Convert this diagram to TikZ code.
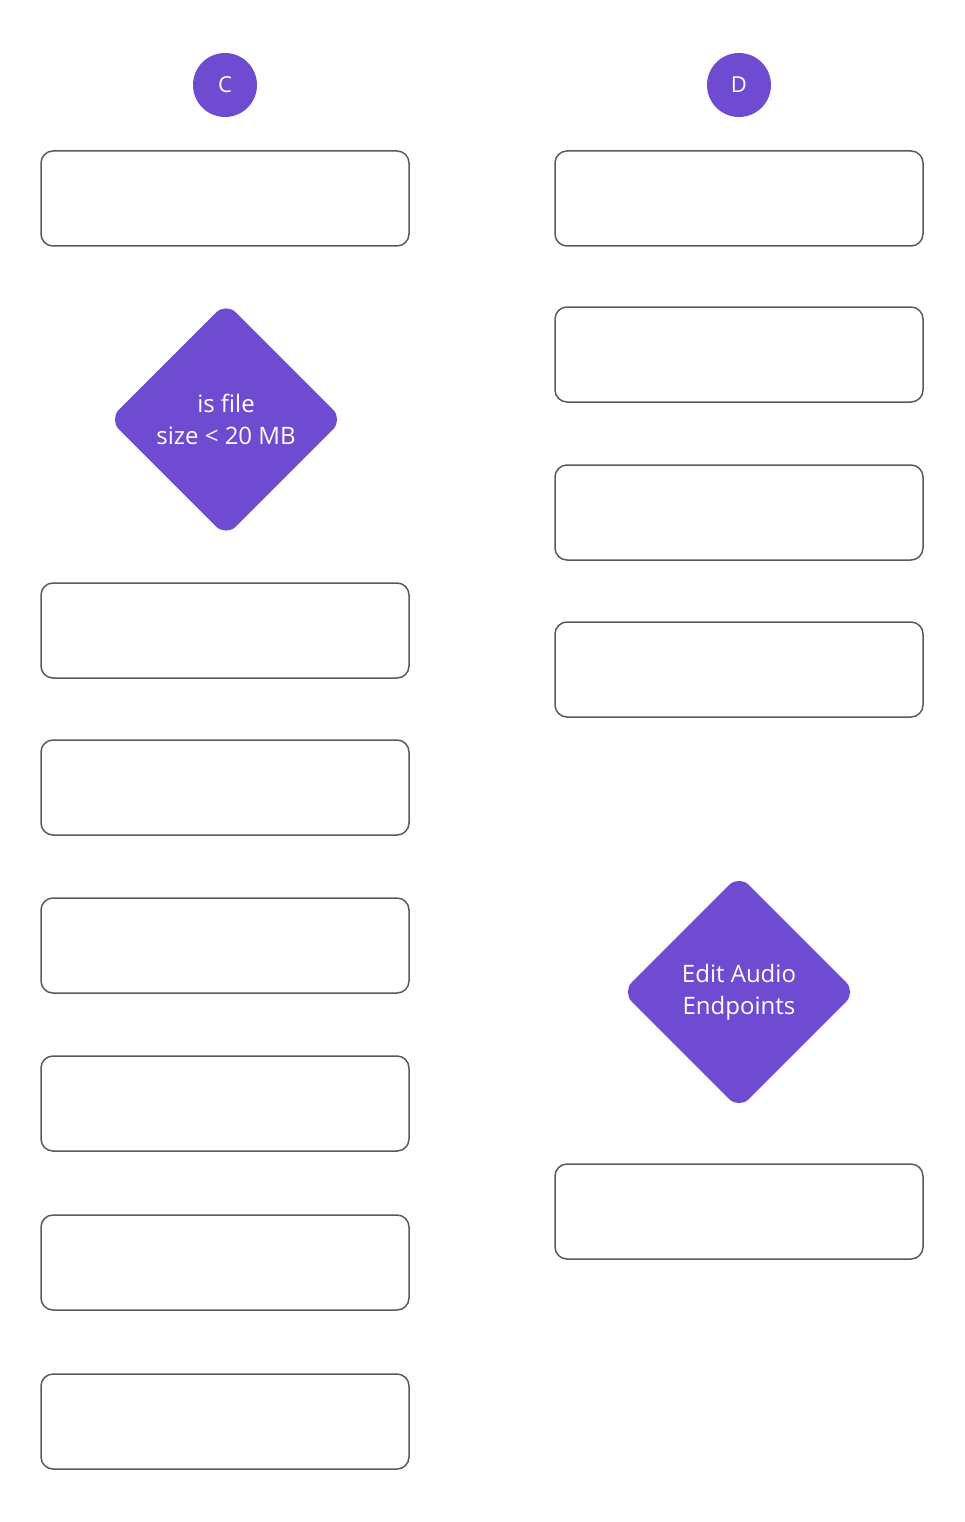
\documentclass[tikz,border=0pt]{standalone}
\usepackage{fontspec}
\setmainfont{Open Sans}
\usetikzlibrary{shapes.geometric}
\definecolor{purp}{HTML}{6E4BD1}
\definecolor{edge}{HTML}{5A5A5A}
\begin{document}
\begin{tikzpicture}[x=1pt,y=-1pt,
  box/.style={draw=edge,line width=1.5pt,rounded corners=12pt,minimum width=368pt,minimum height=95pt,inner sep=0pt,fill=white},
  badge/.style={circle,fill=purp,text=white,minimum size=64pt,inner sep=0pt,font=\fontsize{22}{26}\selectfont},
  decision/.style={diamond,aspect=1,fill=purp,text=white,minimum size=234pt,inner sep=0pt,rounded corners=14pt,align=center,font=\fontsize{24}{32}\selectfont}]
\useasboundingbox (0,0) rectangle (964,1522);
\node[badge] (c) at (225,85) {C};
\node[badge] (d) at (739,85) {D};
\node[box] (l1) at (225,198.5) {};
\node[decision] (q1) at (226,419.5) {is file\\size < 20 MB};
\node[box] (l2) at (225,630.5) {};
\node[box] (l3) at (225,787.5) {};
\node[box] (l4) at (225,945.5) {};
\node[box] (l5) at (225,1103.5) {};
\node[box] (l6) at (225,1262.5) {};
\node[box] (l7) at (225,1421.5) {};
\node[box] (r1) at (739,198.5) {};
\node[box] (r2) at (739,354.5) {};
\node[box] (r3) at (739,512.5) {};
\node[box] (r4) at (739,669.5) {};
\node[decision] (q2) at (739,992) {Edit Audio\\Endpoints};
\node[box] (r5) at (739,1211.5) {};
\end{tikzpicture}
\end{document}
